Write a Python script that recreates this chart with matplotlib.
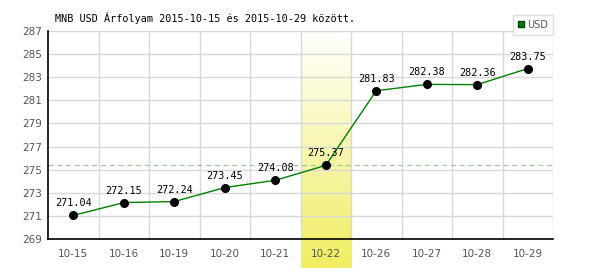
import numpy as np
import matplotlib
matplotlib.use("Agg")
import matplotlib.pyplot as plt

days = ["10-15", "10-16", "10-19", "10-20", "10-21", "10-22", "10-26", "10-27", "10-28", "10-29"]
rates = [271.04, 272.15, 272.24, 273.45, 274.08, 275.37, 281.83, 282.38, 282.36, 283.75]
yticks = [269, 271, 273, 275, 277, 279, 281, 283, 285, 287]
ref_value = 275.37
highlight = "10-22"
title = "MNB USD Árfolyam 2015-10-15 és 2015-10-29 között."

fig = plt.figure(figsize=(6, 2.7), dpi=100)
ax = fig.add_axes([48/600, 31/270, 505/600, 208/270])

x = np.arange(len(days))
ax.set_xlim(-0.5, len(days) - 0.5)
ax.set_ylim(269, 287)

# highlighted day, gradient white -> yellow, reaching below the axis
hi = days.index(highlight)
grad = np.linspace(0, 1, 256).reshape(-1, 1)
cmap = matplotlib.colors.LinearSegmentedColormap.from_list("hl", ["#ffffff", "#f0ee60"])
ybot = 269 - 29 / (208 / 18)
ax.imshow(grad, cmap=cmap, aspect="auto", origin="upper",
          extent=[hi - 0.5, hi + 0.5, ybot, 287], clip_on=False, zorder=0)

# grid
for b in np.arange(0.5, len(days), 1):
    ax.axvline(b, color="#d8d8d8", lw=1, zorder=1)
for t in yticks[1:]:
    ax.axhline(t, color="#d8d8d8", lw=1, zorder=1)

ax.axhline(ref_value, color="#a0c8a0", lw=0.9, ls=(0, (4, 3)), zorder=2)

ax.plot(x, rates, color="#008000", lw=1, zorder=3)
ax.plot(x, rates, "o", color="black", ms=5.5, zorder=4)
for xi, v in zip(x, rates):
    ax.annotate(f"{v:.2f}", (xi, v), xytext=(0, 5), textcoords="offset points",
                ha="center", va="bottom", family="DejaVu Sans Mono", fontsize=7.3,
                color="black", zorder=5)

ax.set_xticks(x)
ax.set_xticklabels(days)
ax.set_yticks(yticks)
ax.tick_params(axis="both", length=0, labelsize=7.5, labelcolor="#555555")
ax.tick_params(axis="x", pad=7)
ax.tick_params(axis="y", pad=4)
for s in ["top", "right"]:
    ax.spines[s].set_visible(False)
ax.spines["left"].set_color("black")
ax.spines["bottom"].set_color("black")
ax.spines["left"].set_linewidth(1.2)
ax.spines["bottom"].set_linewidth(1.2)
ax.spines["left"].set_zorder(6)
ax.spines["bottom"].set_zorder(6)

fig.text(55/600, 1 - 18/270, title, family="DejaVu Sans Mono", fontsize=7.3,
         va="center", ha="left", color="black")

h = plt.Line2D([], [], marker="s", ls="none", color="#008000", mec="#004000", ms=5)
leg = fig.legend([h], ["USD"], loc="upper right", bbox_to_anchor=(553/600, 1 - 15/270),
                 fontsize=7, frameon=True, fancybox=False, handlelength=0.8,
                 handletextpad=0.2, borderpad=0.5, borderaxespad=0)
leg.get_frame().set_edgecolor("#d8d8d8")
leg.get_frame().set_linewidth(1)
for t in leg.get_texts():
    t.set_color("#555555")

fig.savefig("out.png", dpi=100)
